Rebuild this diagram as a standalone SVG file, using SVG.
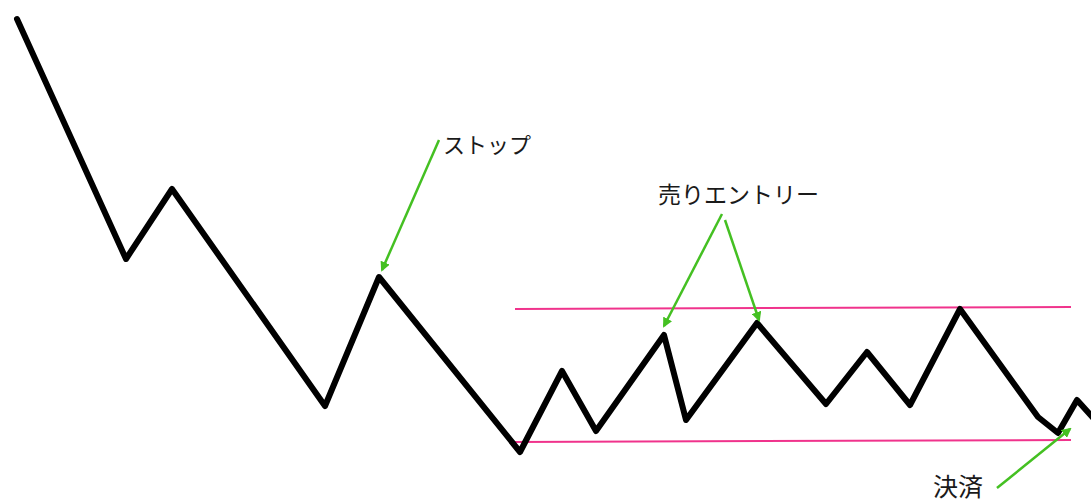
<svg xmlns="http://www.w3.org/2000/svg" width="1091" height="501" viewBox="0 0 1091 501">
<style>
.price{fill:none;stroke:#000;stroke-width:6;stroke-linejoin:round;stroke-linecap:round}
.band{stroke:#f0338c;stroke-width:2}
.arrow{stroke:#44c022;stroke-width:2.5;fill:none;marker-end:url(#ah)}
.lbl{font-family:"Noto Sans CJK JP","Noto Sans",sans-serif;font-size:23px;fill:#1a1a1a}
</style>
<defs>
<marker id="ah" viewBox="0 0 10 10" refX="8" refY="5" markerWidth="4" markerHeight="4" orient="auto" markerUnits="strokeWidth">
<path d="M0,0 L10,5 L0,10 z" fill="#44c022"/>
</marker>
</defs>
<rect width="1091" height="501" fill="#fff"/>
<g id="bands">
<line class="band" x1="515" y1="309" x2="1071" y2="307"/>
<line class="band" x1="515" y1="442" x2="1071" y2="440"/>
</g>
<g id="price-line">
<polyline class="price" points="17,19 126,259 172,189 325,406 379,277 520,452 562,371 596,431 664,335 686,420 757,323 826,404 867,352 910,405 960,309 1038,417 1058,433 1077,400 1095,420"/>
</g>
<g id="connectors">
<line class="arrow" x1="439" y1="140" x2="382" y2="270"/>
<line class="arrow" x1="722" y1="214" x2="664" y2="326"/>
<line class="arrow" x1="725" y1="220" x2="759" y2="320"/>
<line class="arrow" x1="997" y1="488" x2="1070" y2="429"/>
</g>
<g id="label-stop"><text class="lbl" x="443" y="153" style="font-size:22px">ストップ</text></g>
<g id="label-entry"><text class="lbl" x="658" y="203">売りエントリー</text></g>
<g id="label-exit"><text class="lbl" x="933" y="496" style="font-size:25px">決済</text></g>
</svg>
